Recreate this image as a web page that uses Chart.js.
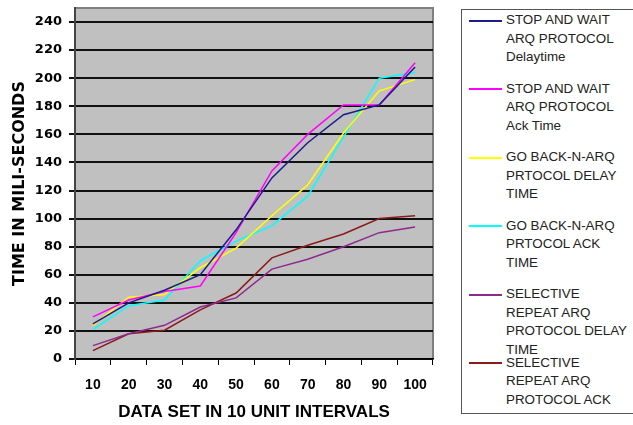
<!DOCTYPE html>
<html>
<head>
<meta charset="utf-8">
<title>ARQ protocol times</title>
<script src="https://cdn.jsdelivr.net/npm/chart.js"></script>
<style>
body { margin: 0; background: #fff; }
#wrap { position: relative; width: 633px; height: 425px; }
#legend {
	position: absolute; left: 461px; top: 9px; width: 190px; height: 403px;
	border: 1.5px solid #555; border-right: none; overflow: hidden; background: #fff;
	font-family: 'Liberation Sans', Arial, sans-serif; font-size: 13.4px; color: #222;
}
.item-line { position: absolute; left: 7px; width: 33px; height: 2px; }
.item-text { position: absolute; left: 44px; line-height: 18.5px; white-space: nowrap; }
</style>
</head>
<body>
<div id="wrap">
	<canvas id="myChart" width="633" height="425"></canvas>
	<div id="legend"></div>
</div>

<script>
// data set sizes on the x axis
const categories = ["10", "20", "30", "40", "50", "60", "70", "80", "90", "100"];
const yTicks = [0, 20, 40, 60, 80, 100, 120, 140, 160, 180, 200, 220, 240];

// times in ms
const swDelay  = [25, 40, 49, 60, 92, 129, 154, 174, 181, 208];
const swAck    = [30, 42, 48, 52, 90, 134, 160, 181, 181, 211];
const gbnDelay = [24, 44, 46, 65, 79, 102, 124, 161, 191, 199];
const gbnAck   = [21, 38, 42, 70, 84, 95, 116, 158, 200, 204];
const srDelay  = [9.5, 18, 24, 37, 43.5, 64, 71, 80, 90, 94];
const srAck    = [6, 18, 20.5, 35, 47, 72, 81, 89, 100, 102];

const seriesNames = [
	["STOP AND WAIT", "ARQ PROTOCOL", "Delaytime"],
	["STOP AND WAIT", "ARQ PROTOCOL", "Ack Time"],
	["GO BACK-N-ARQ", "PRTOCOL DELAY", "TIME"],
	["GO BACK-N-ARQ", "PRTOCOL ACK", "TIME"],
	["SELECTIVE", "REPEAT ARQ", "PROTOCOL DELAY", "TIME"],
	["SELECTIVE", "REPEAT ARQ", "PROTOCOL ACK", "TIME"]
];
const seriesData = [swDelay, swAck, gbnDelay, gbnAck, srDelay, srAck];
const seriesColors = ["#1c1c88", "#ff00ff", "#ffff00", "#00ffff", "#8e2a8e", "#8b1a1a"];

const plotBack = {
	id: 'plotBack',
	beforeDraw(chart) {
		const a = chart.chartArea;
		const ctx = chart.ctx;
		ctx.save();
		ctx.fillStyle = "#c0c0c0";
		ctx.fillRect(a.left, a.top, a.right - a.left, a.bottom - a.top);
		ctx.strokeStyle = "#808080";
		ctx.lineWidth = 2;
		ctx.beginPath();
		ctx.moveTo(a.left, a.top);
		ctx.lineTo(a.right, a.top);
		ctx.lineTo(a.right, a.bottom);
		ctx.stroke();
		ctx.restore();
	}
};

const chart = new Chart("myChart", {
	type: "line",
	data: {
		labels: categories,
		datasets: seriesData.map((d, i) => ({
			label: seriesNames[i].join(" "),
			data: d,
			borderColor: seriesColors[i],
			backgroundColor: seriesColors[i],
			borderWidth: 1.5,
			pointRadius: 0,
			tension: 0,
			fill: false
		}))
	},
	options: {
		responsive: false,
		animation: false,
		layout: { padding: { top: 8, right: 200, left: 0, bottom: 0 } },
		plugins: { legend: { display: false }, tooltip: { enabled: false } },
		scales: {
			x: {
				offset: true,
				grid: { offset: true, drawOnChartArea: false, drawTicks: true, tickLength: 6, color: "#000" },
				border: { color: "#000", width: 1.5 },
				ticks: { color: "#000", padding: 12, maxRotation: 0,
					font: { family: "'Liberation Sans', Arial", size: 14, weight: "bold" } },
				title: { display: true, text: "DATA SET IN 10 UNIT INTERVALS", color: "#000",
					padding: { top: 0, bottom: 2 },
					font: { family: "'Liberation Sans', Arial", size: 17, weight: "bold" } },
				afterFit: s => { s.height = 66; }
			},
			y: {
				min: 0,
				max: 250,
				afterBuildTicks: s => { s.ticks = yTicks.map(v => ({ value: v })); },
				grid: { color: "#111", lineWidth: 2, tickLength: 6 },
				border: { color: "#444", width: 2 },
				ticks: { color: "#000", padding: 7,
					font: { family: "'DejaVu Sans'", size: 13, weight: "bold" } },
				title: { display: true, text: "TIME IN MILI-SECONDS", color: "#000",
					padding: { top: 10, bottom: 0 },
					font: { family: "'DejaVu Sans'", size: 16, weight: "bold" } },
				afterFit: s => { s.width = 75; s.paddingTop = 0; s.paddingBottom = 0; }
			}
		}
	},
	plugins: [plotBack]
});

// legend box on the right, built from the same series lists
const legend = document.getElementById("legend");
seriesNames.forEach((lines, i) => {
	const cy = 10.5 + i * 68.5;
	const ln = document.createElement("div");
	ln.className = "item-line";
	ln.style.top = (cy - 1) + "px";
	ln.style.background = seriesColors[i];
	legend.appendChild(ln);
	const tx = document.createElement("div");
	tx.className = "item-text";
	tx.style.top = (cy - 9.25) + "px";
	tx.innerHTML = lines.join("<br>");
	legend.appendChild(tx);
});
</script>
</body>
</html>
